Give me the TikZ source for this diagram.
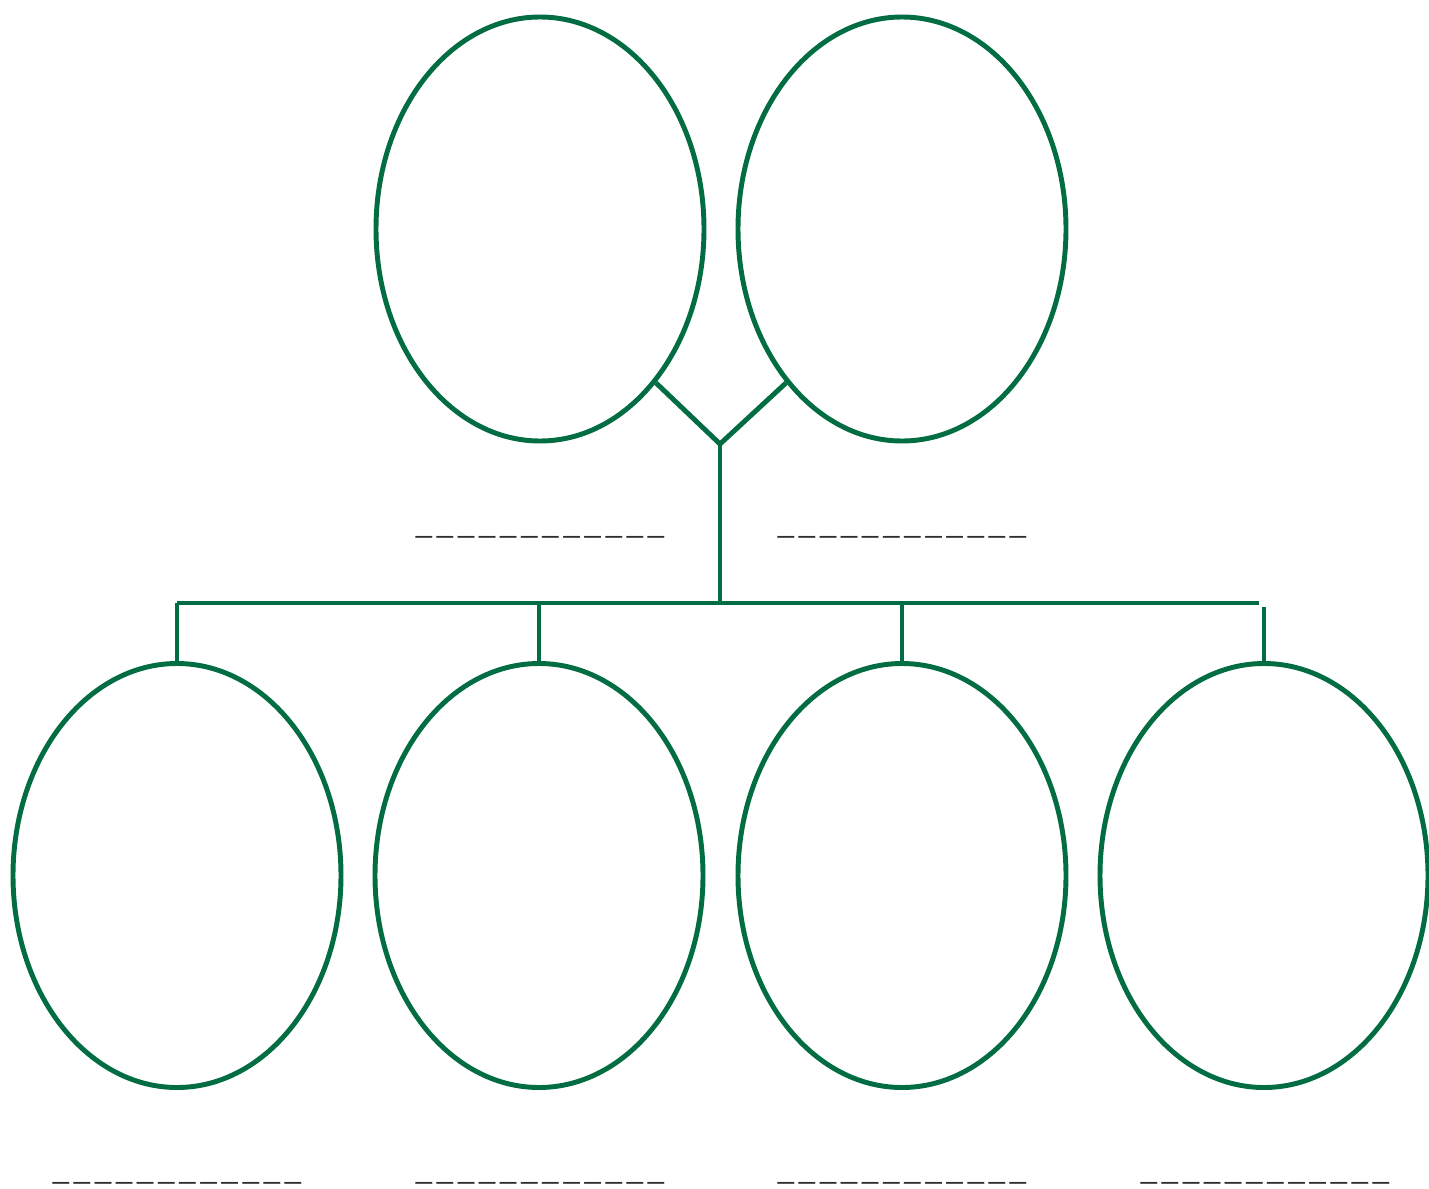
\documentclass[tikz,border=0pt]{standalone}
\usepackage{fontspec}
\setmainfont{Liberation Sans}
\newfontfamily\blankfont[LetterSpace=17]{Liberation Sans}
\usetikzlibrary{shapes.geometric}
\definecolor{grn}{HTML}{026C42}
\definecolor{blank}{HTML}{2E2E2E}
\begin{document}
\begin{tikzpicture}[x=0.75pt,y=-0.75pt,
  oval/.style={draw=grn,line width=3.7pt,ellipse,minimum width=246pt,minimum height=318pt,inner sep=0pt},
  conn/.style={draw=grn,line width=3.7pt},
  blankline/.style={anchor=base,text=blank,font=\blankfont\fontsize{21.8pt}{24pt}\selectfont,inner sep=0pt}]
\useasboundingbox (0,0) rectangle (1429,1189);
\node[oval] (t1) at (540,229) {};
\node[oval] (t2) at (902,229) {};
\node[oval] (b1) at (177,875.5) {};
\node[oval] (b2) at (539,875.5) {};
\node[oval] (b3) at (902,875.5) {};
\node[oval] (b4) at (1264,875.5) {};
\coordinate (j) at (720,444);
\coordinate (h) at (720,603);
\coordinate (hl) at (177,603);
\coordinate (hr) at (1259,603);
\coordinate (hr2) at (1262,607);
\draw[conn] (t1.-53) -- (j) -- (t2.-127);
\draw[conn] (j) -- (h);
\draw[conn] (hl) -- (hr);
\draw[conn] (hl) -- (b1.north);
\draw[conn] (b2.north |- hl) -- (b2.north);
\draw[conn] (b3.north |- hl) -- (b3.north);
\draw[conn] (b4.north |- hr2) -- (b4.north);
\node[blankline] (l1) at (540,532) {\_\_\_\_\_\_\_\_\_\_\_\_};
\node[blankline] (l2) at (902,532) {\_\_\_\_\_\_\_\_\_\_\_\_};
\node[blankline] (l3) at (177,1178) {\_\_\_\_\_\_\_\_\_\_\_\_};
\node[blankline] (l4) at (540,1178) {\_\_\_\_\_\_\_\_\_\_\_\_};
\node[blankline] (l5) at (902,1178) {\_\_\_\_\_\_\_\_\_\_\_\_};
\node[blankline] (l6) at (1265,1178) {\_\_\_\_\_\_\_\_\_\_\_\_};
\end{tikzpicture}
\end{document}
